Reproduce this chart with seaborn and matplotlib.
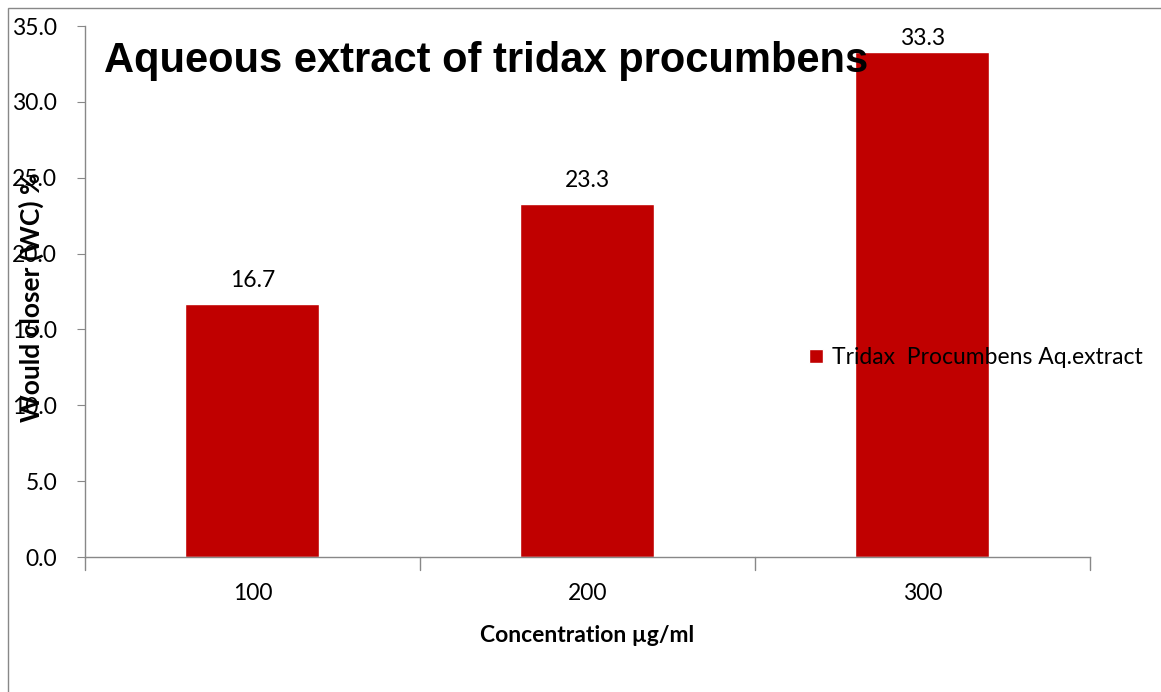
import matplotlib
matplotlib.use("Agg")
import matplotlib.pyplot as plt
import seaborn as sns
import pandas as pd
from matplotlib.patches import Rectangle

# data
concentrations = ["100", "200", "300"]
wound_closure = [16.7, 23.3, 33.3]
series_name = "Tridax  Procumbens Aq.extract"

df = pd.DataFrame({"Concentration": concentrations, "WC": wound_closure})

sns.set_style("white")
plt.rcParams["font.family"] = ["Lato", "DejaVu Sans"]
plt.rcParams["text.color"] = "black"
plt.rcParams["xtick.color"] = "black"
plt.rcParams["ytick.color"] = "black"
plt.rcParams["axes.labelcolor"] = "black"

fs = 16.5

fig = plt.figure(figsize=(11.61, 6.92), dpi=100)
ax = fig.add_axes([0.0732, 0.195, 0.8656, 0.7674])

sns.barplot(data=df, x="Concentration", y="WC", color="#C00000", width=0.4,
            saturation=1, label=series_name, ax=ax)

ax.set_ylim(0, 35)
ax.set_xlim(-0.5, 2.5)
ax.set_yticks([0, 5, 10, 15, 20, 25, 30, 35])
ax.set_yticklabels([f"{v:.1f}" for v in ax.get_yticks()], fontsize=fs)
ax.tick_params(axis="x", labelsize=fs, length=0, pad=19)
ax.tick_params(axis="y", length=6, color="#888888", direction="out", left=True, pad=14)

# category boundary ticks on the x axis
for b in [-0.5, 0.5, 1.5, 2.5]:
    ax.plot([b, b], [0, -0.025], transform=ax.get_xaxis_transform(),
            color="#888888", lw=1, clip_on=False)

for s in ["top", "right"]:
    ax.spines[s].set_visible(False)
for s in ["left", "bottom"]:
    ax.spines[s].set_color("#888888")
    ax.spines[s].set_linewidth(1)

for x, v in enumerate(wound_closure):
    ax.text(x, min(v + 1.5, 34.2), f"{v:.1f}", ha="center", va="center", fontsize=fs)

ax.set_xlabel("Concentration µg/ml", fontsize=fs, fontweight="bold", labelpad=15)
ax.set_ylabel("")
fig.text(0.027, 0.57, "Would closer (WC) %", rotation=90, ha="center", va="center",
         fontsize=19, fontweight="bold")

fig.text(0.09, 0.912, "Aqueous extract of tridax procumbens", fontsize=30,
         fontweight="bold", ha="left", va="center", family="Liberation Sans")

ax.legend(loc="center left", bbox_to_anchor=(0.7, 0.376), frameon=False,
          fontsize=fs, handlelength=0.6, handleheight=0.6, handletextpad=0.4)

fig.patches.append(Rectangle((8 / 1161, -0.01), 1.0, 1 - 8 / 692 + 0.01,
                             transform=fig.transFigure, fill=False,
                             edgecolor="#888888", lw=1))

fig.savefig("out.png", dpi=100)
